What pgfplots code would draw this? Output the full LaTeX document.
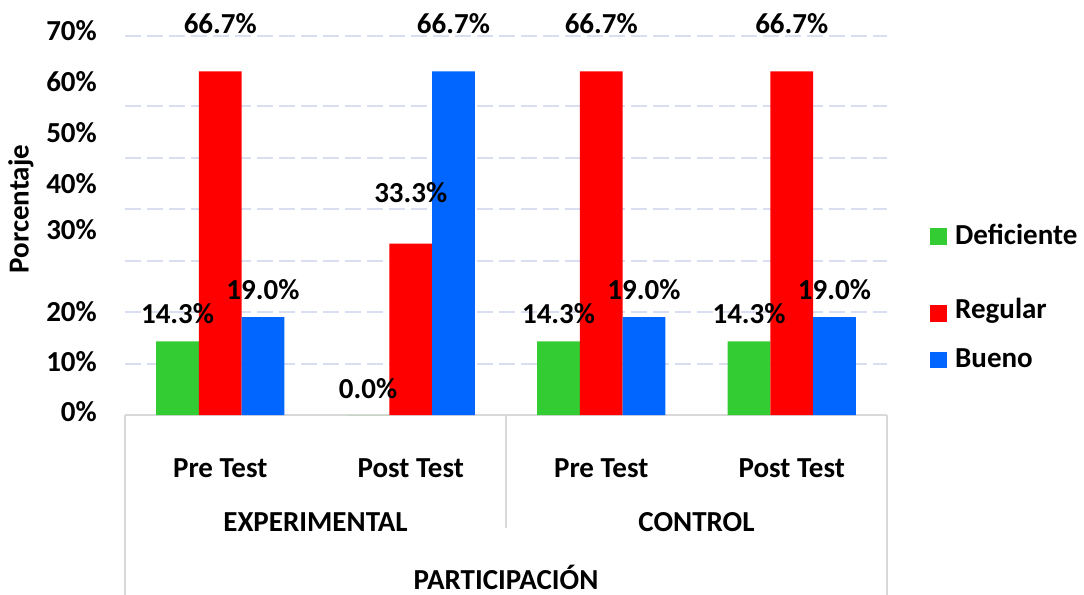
\documentclass[border=0pt]{standalone}
\usepackage{pgfplots}
\usepackage{pgfplotstable}
\pgfplotsset{compat=1.18}
\usepackage{fontspec}
\setmainfont{Carlito}
\definecolor{cgreen}{RGB}{51,204,51}
\definecolor{cred}{RGB}{255,0,0}
\definecolor{cblue}{RGB}{0,102,255}
\definecolor{cgrid}{RGB}{217,223,240}
\definecolor{cbox}{RGB}{217,217,217}
\newcommand\ff{\fontsize{29bp}{35bp}\selectfont\bfseries}
\pgfplotstableread{
x def reg bue
0 14.3 66.7 19.0
1 0.0 33.3 66.7
2 14.3 66.7 19.0
3 14.3 66.7 19.0
}\datatable
\begin{document}
\begin{tikzpicture}[font=\ff]
\begin{axis}[
  at={(0,0)}, anchor=south west,
  scale only axis, width=762bp, height=391.4bp,
  xmin=-0.5, xmax=3.5, ymin=0, ymax=76,
  ybar=0pt, bar width=42.7bp,
  axis x line*=bottom, axis y line*=left,
  x axis line style={draw=cbox, line width=1.5bp, -},
  y axis line style={draw=none},
  xtick={0,1,2,3}, xticklabels={Pre Test, Post Test, Pre Test, Post Test},
  xticklabel style={anchor=base, inner sep=0pt, yshift=-62bp},
  ytick={0.6,10.3,20,35.9,44.9,54.9,64.8,74.6},
  yticklabels={0\%,10\%,20\%,30\%,40\%,50\%,60\%,70\%},
  yticklabel style={anchor=east, inner sep=0pt, xshift=-28bp},
  major tick length=0pt,
  tick style={draw=none},
  extra y ticks={10,20,30,40,50,60,73.65},
  extra y tick labels={,,,,,,},
  extra y tick style={grid=major, major grid style={draw=cgrid, line width=2bp, dash pattern=on 16bp off 6bp}},
  tick label style={font=\ff},
  clip=false,
]
\addplot[fill=cgreen, draw=none] table[x=x,y=def]{\datatable};
\addplot[fill=cred, draw=none] table[x=x,y=reg]{\datatable};
\addplot[fill=cblue, draw=none] table[x=x,y=bue]{\datatable};
\node[inner sep=0pt] at (axis cs:0,76) {66.7\%};
\node[inner sep=0pt] at (axis cs:1.2241,76) {66.7\%};
\node[inner sep=0pt] at (axis cs:2,76) {66.7\%};
\node[inner sep=0pt] at (axis cs:3,76) {66.7\%};
\node[inner sep=0pt] at (axis cs:-0.2241,19.6) {14.3\%};
\node[inner sep=0pt] at (axis cs:1.7759,19.6) {14.3\%};
\node[inner sep=0pt] at (axis cs:2.7759,19.6) {14.3\%};
\node[inner sep=0pt] at (axis cs:0.2241,24.4) {19.0\%};
\node[inner sep=0pt] at (axis cs:2.2241,24.4) {19.0\%};
\node[inner sep=0pt] at (axis cs:3.2241,24.4) {19.0\%};
\node[inner sep=0pt] at (axis cs:1,43.1) {33.3\%};
\node[inner sep=0pt] at (axis cs:0.7759,5.2) {0.0\%};
\end{axis}
\draw[cbox, line width=1.5bp] (0,0) -- (0,-185bp);
\draw[cbox, line width=1.5bp] (762bp,0) -- (762bp,-185bp);
\draw[cbox, line width=1.5bp] (381bp,0) -- (381bp,-113bp);
\node[anchor=base, inner sep=0pt] at (190.5bp,-116.7bp) {EXPERIMENTAL};
\node[anchor=base, inner sep=0pt] at (571.5bp,-116.7bp) {CONTROL};
\node[anchor=base, inner sep=0pt] at (381bp,-174bp) {PARTICIPACIÓN};
\node[rotate=90, anchor=base, inner sep=0pt] at (-96.3bp,206bp) {Porcentaje};
\fill[cgreen] (805bp,170bp) rectangle ++(17bp,17bp);
\node[anchor=base west, inner sep=0pt] at (830bp,170.7bp) {Deficiente};
\fill[cred] (805bp,93.3bp) rectangle ++(17bp,16.7bp);
\node[anchor=base west, inner sep=0pt] at (830bp,96bp) {Regular};
\fill[cblue] (805bp,46.7bp) rectangle ++(17bp,16.7bp);
\node[anchor=base west, inner sep=0pt] at (830bp,47.3bp) {Bueno};
\pgfresetboundingbox
\path (-125bp,-180bp) rectangle (959bp,415bp);
\end{tikzpicture}
\end{document}
